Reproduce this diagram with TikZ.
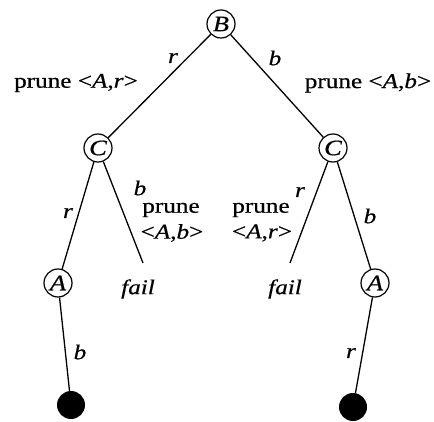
\documentclass[tikz,border=0pt]{standalone}
\usepackage{fontspec}
\setmainfont{Liberation Serif}[FakeStretch=1.2,FakeBold=0.6]
\begin{document}
\begin{tikzpicture}[x=1pt,y=-1pt,
  every node/.style={font=\fontsize{21}{23}\selectfont},
  st/.style={draw,circle,line width=1.2pt,minimum size=28pt,inner sep=0pt,font=\fontsize{22}{24}\selectfont\itshape},
  leaf/.style={fill=black,circle,minimum size=28pt,inner sep=0pt},
  lab/.style={font=\fontsize{21}{23}\selectfont\itshape,inner sep=0pt},
  txt/.style={inner sep=0pt,align=center},
  br/.style={line width=1.3pt}]
\useasboundingbox (0,0) rectangle (434,422);
\node[st] (B) at (221,24) {B};
\node[st] (Cl) at (98,148) {C};
\node[st] (Cr) at (333,148) {C};
\node[st] (Al) at (58,283) {A};
\node[st] (Ar) at (375,283) {A};
\node[leaf] (Dl) at (71,405) {};
\node[leaf] (Dr) at (353,407) {};
\node[lab] (fl) at (138,289) {fail};
\node[lab] (fr) at (285,289) {fail};
\coordinate (fle) at (143,263);
\coordinate (fre) at (290,263);
\draw[br] (B) -- (Cl);
\draw[br] (B) -- (Cr);
\draw[br] (Cl) -- (Al);
\draw[br] (Cl) -- (fle);
\draw[br] (Cr) -- (fre);
\draw[br] (Cr) -- (Ar);
\draw[br] (Al) -- (Dl);
\draw[br] (Ar) -- (Dr);
\node[lab] (l1) at (173,58) {r};
\node[lab] (l2) at (275,58) {b};
\node[txt] (p1) at (76,83) {prune \textless\textit{A},\textit{r}\textgreater};
\node[txt] (p2) at (368,83) {prune \textless\textit{A},\textit{b}\textgreater};
\node[lab] (l3) at (68,213) {r};
\node[lab] (l4) at (140,188) {b};
\node[txt] (p3) at (171,210) {prune};
\node[txt] (p4) at (172,233) {\textless\textit{A},\textit{b}\textgreater};
\node[txt] (p5) at (261,210) {prune};
\node[txt] (p6) at (262,233) {\textless\textit{A},\textit{r}\textgreater};
\node[lab] (l5) at (300,192) {r};
\node[lab] (l6) at (370,216) {b};
\node[lab] (l7) at (80,352) {b};
\node[lab] (l8) at (351,353) {r};
\end{tikzpicture}
\end{document}
